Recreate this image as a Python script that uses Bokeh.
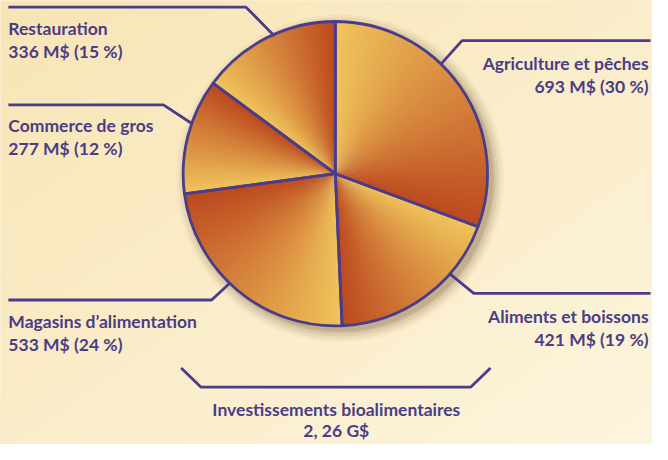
import numpy as np
from bokeh.plotting import figure
from bokeh.models import Range1d
from bokeh.core.properties import value
from bokeh.embed import file_html
from bokeh.resources import INLINE

# ---- data ----
categories = ["Agriculture et pêches", "Aliments et boissons", "Magasins d\u2019alimentation",
              "Commerce de gros", "Restauration"]
values = [693, 421, 533, 277, 336]
percents = ["30 %", "19 %", "24 %", "12 %", "15 %"]
total_title = "Investissements bioalimentaires"
total_label = "2, 26 G$"

# ---- style / layout ----
H = 460  # reference height, data y = H - screen y
PURPLE = "#4A3C8A"
TEXT = "#4A3D85"
YEL = np.array([0xF0, 0xC4, 0x5C])
DARK = np.array([0xBD, 0x4A, 0x1F])
CX, CY, R = 345, H - 187, 155
FONT = value("Lato")
FSIZE = "17.5px"

p = figure(width=652, height=444, x_range=Range1d(4, 668), y_range=Range1d(-10, 454),
           output_backend="svg", toolbar_location=None, min_border=0)
p.axis.visible = False
p.grid.visible = False
p.outline_line_color = None
p.background_fill_color = "#FAEDC9"
p.border_fill_color = "#FAEDC9"

# background gradient (top-left warm -> bottom-right pale)
n = 96
gx, gy = np.meshgrid(np.linspace(0, 1, n), np.linspace(0, 1, n))
t = np.clip((gx * 0.5 + (1 - gy) * 0.5), 0, 1)  # gy=1 is top
c0 = np.array([0xF8, 0xE5, 0xB5])
c1 = np.array([0xFD, 0xF5, 0xDE])
img = np.zeros((n, n), dtype=np.uint32)
view = img.view(dtype=np.uint8).reshape((n, n, 4))
for k in range(3):
    view[:, :, k] = (c0[k] + (c1[k] - c0[k]) * t).astype(np.uint8)
view[:, :, 3] = 255
p.image_rgba(image=[img], x=0, y=H - 480, dw=680, dh=490)

# soft shadow behind pie (offset to lower right)
for i, rr in enumerate([167, 164, 161, 158, 156]):
    p.circle(x=[CX + 5], y=[CY - 5], radius=rr, fill_color="#5a3a10",
             fill_alpha=0.04 + 0.02 * i, line_color=None)

# pie slices with a yellow->dark clockwise shading
total = float(sum(values))
cum = 0.0
starts, ends = [], []
for v in values:
    starts.append(cum / total * 2 * np.pi)
    ends.append((cum + v) / total * 2 * np.pi)
    cum += v

steps = 40
for a0, a1 in zip(starts, ends):
    span = a1 - a0
    for j in range(steps):
        tt = (j + 0.5) / steps
        col = YEL + (DARK - YEL) * tt
        hexc = "#%02x%02x%02x" % tuple(int(c) for c in col)
        cw0 = a0 + span * j / steps
        cw1 = a0 + span * (j + 1) / steps + (0.01 if j < steps - 1 else 0)
        p.wedge(x=[CX], y=[CY], radius=R, start_angle=np.pi / 2 - cw1,
                end_angle=np.pi / 2 - cw0, fill_color=hexc, line_color=None)

# outlines
p.wedge(x=[CX] * len(values), y=[CY] * len(values), radius=R,
        start_angle=[np.pi / 2 - e for e in ends], end_angle=[np.pi / 2 - s for s in starts],
        fill_color=None, line_color=PURPLE, line_width=2.8)

# leader lines (reference pixel positions)
leaders = [
    [(453, 72), (474, 48), (666, 48)],          # Agriculture
    [(462, 292), (486, 312), (666, 312)],       # Aliments
    [(238, 301), (219, 319), (12, 319)],        # Magasins
    [(198, 134), (170, 115), (12, 115)],        # Commerce
    [(283, 43), (254, 13), (12, 13)],           # Restauration
    [(188, 390), (208, 410), (483, 410), (503, 390)],  # bracket
]
for pts in leaders:
    p.line([q[0] for q in pts], [H - q[1] for q in pts], line_color=PURPLE, line_width=2.8)

# labels
label_pos = [(664, 72, "right"), (664, 336, "right"), (12, 341, "left"),
             (12, 137, "left"), (12, 35, "left")]
for cat, v, pc, (lx, ly, al) in zip(categories, values, percents, label_pos):
    for k, s in enumerate([cat, f"{v} M$ ({pc})"]):
        p.text(x=[lx], y=[H - (ly + 24 * k)], text=[s], text_align=al,
               text_baseline="alphabetic", text_font=FONT,
               text_font_style="bold", text_font_size=FSIZE, text_color=TEXT)

for k, s in enumerate([total_title, total_label]):
    p.text(x=[346], y=[H - (433 + 22 * k)], text=[s], text_align="center",
           text_baseline="alphabetic", text_font=FONT,
           text_font_style="bold", text_font_size=FSIZE, text_color=TEXT)

open("out.html", "w").write(file_html(p, INLINE))
